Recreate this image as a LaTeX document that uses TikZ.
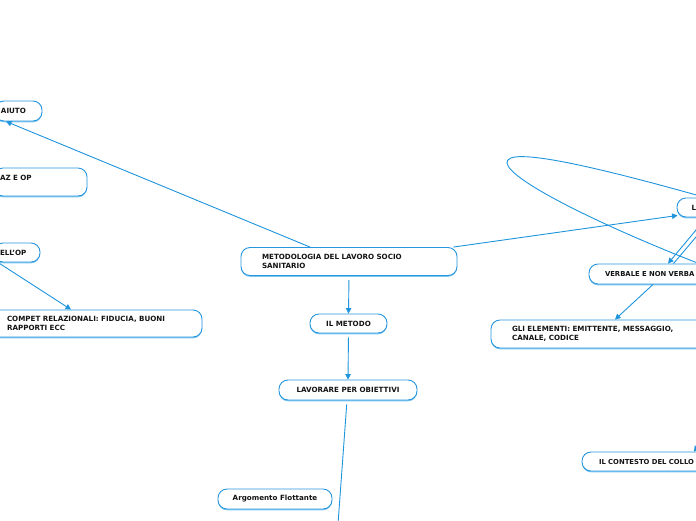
\documentclass[tikz,border=0pt]{standalone}
\usepackage{fontspec}
\setmainfont{DejaVu Sans}
\usetikzlibrary{arrows.meta,shadows}
\definecolor{nodeblue}{RGB}{40,150,222}
\definecolor{lineblue}{RGB}{30,148,220}
\definecolor{shadowblue}{RGB}{125,198,240}
\definecolor{txt}{RGB}{20,20,20}
\begin{document}
\begin{tikzpicture}[x=1pt,y=-1pt,
  box/.style={draw=nodeblue, line width=0.9pt, rounded corners=9pt, fill=white, text=txt,
    font=\fontsize{7.15}{8.5}\selectfont\bfseries, inner xsep=0pt, inner ysep=0pt, align=left,
    drop shadow={shadow xshift=0pt, shadow yshift=-1.3pt, fill=shadowblue, opacity=1}},
  edgebox/.style={box, font=\fontsize{6.85}{8.5}\selectfont\bfseries},
  conn/.style={draw=lineblue, line width=0.9pt},
  arr/.style={conn, -{Triangle[length=5.5pt,width=5.5pt]}}]
\useasboundingbox (0,0) rectangle (696,520);
\clip (0,0) rectangle (696,520);
% nodes
\node[box, minimum width=47pt, minimum height=20pt, text width=35pt] (A) at (18.5,111) {AIUTO};
\node[box, minimum width=93pt, minimum height=28pt, text width=81pt] (B) at (40.5,182) {AZ E OP\\\phantom{A}};
\node[box, minimum width=46pt, minimum height=19pt, text width=34pt] (C) at (17,252.5) {ELL'OP};
\node[box, minimum width=216pt, minimum height=27pt, text width=174pt] (D) at (94,323.5) {COMPET RELAZIONALI: FIDUCIA, BUONI\\RAPPORTI ECC};
\node[box, minimum width=216pt, minimum height=28pt, text width=174pt] (E) at (349,261.5) {METODOLOGIA DEL LAVORO SOCIO\\SANITARIO};
\node[box, minimum width=77pt, minimum height=19pt, align=center] (F) at (348.5,323.5) {IL METODO};
\node[box, minimum width=138pt, minimum height=20pt, align=center] (G) at (348,390) {LAVORARE PER OBIETTIVI};
\node[box, minimum width=114pt, minimum height=20pt, align=center] (H) at (275,499) {Argomento Flottante};
\node[box, minimum width=83pt, minimum height=19pt, text width=54pt] (I) at (718.5,207.5) {L};
\node[edgebox, minimum width=131pt, minimum height=20pt, text width=99pt] (J) at (654.5,274) {VERBALE E NON VERBA};
\node[box, minimum width=216pt, minimum height=28pt, text width=174pt] (K) at (599,334) {GLI ELEMENTI: EMITTENTE, MESSAGGIO,\\CANALE, CODICE};
\node[edgebox, minimum width=138pt, minimum height=19pt, text width=104pt] (L) at (651,461.5) {IL CONTESTO DEL COLLO};
% free ends
\coordinate (g1) at (338,524);
\coordinate (loopA) at (700,196);
\coordinate (loopB) at (700,264);
\coordinate (ctx) at (702,440);
% connectors
\draw[arr] ([xshift=-39pt]E.north) -- ([xshift=-12.5pt]A.south);
\draw[arr] ([xshift=-4pt]E.north east) -- ([shift={(1pt,2pt)}]I.south west);
\draw[arr, shorten <=4pt] (E.south) -- (F.north);
\draw[arr, shorten <=4pt] (F.south) -- (G.north);
\draw[conn, shorten <=4pt] ([xshift=-1pt]G.south) -- (g1);
\draw[arr] ([xshift=-19pt]C.south) -- ([xshift=-23pt]D.north);
\draw[conn] (loopA) .. controls (600,168) and (505,145) .. (507,163)
            .. controls (509,180) and (600,225) .. (loopB);
\draw[arr] ([xshift=-12pt]I.south) -- ([xshift=13.5pt]J.north);
\draw[conn] ([xshift=-6pt]I.south) -- ([xshift=19pt]J.north);
\draw[arr] ([xshift=-1.5pt]J.south) -- ([xshift=16pt]K.north);
\draw[arr] (ctx) -- ([xshift=43pt]L.north);
\end{tikzpicture}
\end{document}
